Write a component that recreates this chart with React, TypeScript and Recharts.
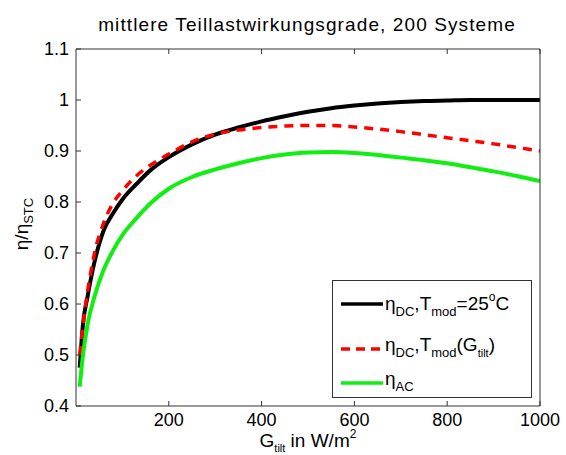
import { LineChart, Line, XAxis, YAxis, Legend, Label } from 'recharts'

// irradiance G_tilt in W/m²
const gTilt = [8, 15, 25, 40, 60, 80, 100, 130, 160, 200, 250, 300, 350, 400, 450, 500, 550, 600, 650, 700, 750, 800, 850, 900, 950, 1000]
// eta_DC at T_mod = 25 °C
const etaDc25 = [0.475, 0.56, 0.615, 0.683, 0.745, 0.778, 0.805, 0.835, 0.862, 0.888, 0.913, 0.932, 0.946, 0.958, 0.968, 0.977, 0.984, 0.989, 0.993, 0.996, 0.998, 0.999, 1.0, 1.0, 1.0, 1.0]
// eta_DC at T_mod(G_tilt)
const etaDcT = [0.5, 0.558, 0.625, 0.7, 0.76, 0.798, 0.822, 0.851, 0.872, 0.894, 0.918, 0.933, 0.941, 0.946, 0.949, 0.95, 0.95, 0.947, 0.943, 0.938, 0.932, 0.926, 0.92, 0.914, 0.907, 0.9]
// eta_AC
const etaAc = [0.438, 0.5, 0.56, 0.615, 0.668, 0.705, 0.735, 0.768, 0.797, 0.826, 0.849, 0.864, 0.876, 0.886, 0.893, 0.897, 0.898, 0.896, 0.892, 0.887, 0.882, 0.876, 0.868, 0.86, 0.851, 0.841]

const xTicks = [200, 400, 600, 800, 1000]
const yTicks = [0.4, 0.5, 0.6, 0.7, 0.8, 0.9, 1, 1.1]

const data = gTilt.map((g, i) => ({ g, dc25: etaDc25[i], dcT: etaDcT[i], ac: etaAc[i] }))

const FONT = "'Liberation Sans', Arial, sans-serif"
const AX = '#333'
const tickStyle = { fill: '#000', fontSize: 18, fontFamily: FONT }
const none = () => ''

const sub = { fontSize: 13, verticalAlign: '-6px' } as React.CSSProperties
const sup = { fontSize: 12, verticalAlign: '9px' } as React.CSSProperties

function LegendBox() {
  const row = (top: number, color: string, dash: boolean, label: React.ReactNode) => (
    <div style={{ position: 'absolute', left: 0, top, height: 24, display: 'flex', alignItems: 'center' }}>
      <svg width={52} height={10}>
        <line x1={8} y1={5} x2={50} y2={5} stroke={color} strokeWidth={3.5} strokeDasharray={dash ? '9 6' : undefined} />
      </svg>
      <span style={{ fontSize: 19, fontFamily: FONT, whiteSpace: 'nowrap', lineHeight: '24px' }}>{label}</span>
    </div>
  )
  return (
    <div style={{ position: 'relative', width: 200, height: 118, border: `1px solid ${AX}`, background: '#fff', boxSizing: 'border-box' }}>
      {row(11, '#000', false, <>η<span style={sub}>DC</span>,T<span style={sub}>mod</span>=25<span style={sup}>o</span>C</>)}
      {row(56, '#f00', true, <>η<span style={sub}>DC</span>,T<span style={sub}>mod</span>(G<span style={{ fontSize: 11, verticalAlign: '-6px' }}>tilt</span>)</>)}
      {row(90, '#11ee11', false, <>η<span style={sub}>AC</span></>)}
    </div>
  )
}

export default function App() {
  return (
    <div style={{ width: 566, height: 455, position: 'relative', background: '#fff' }}>
      <style>{'body{margin:0}'}</style>
      <LineChart width={566} height={455} data={data} margin={{ top: 48, right: 25, bottom: 48, left: 75 }}>
        <text x={307} y={31} textAnchor="middle" fontSize={19} letterSpacing={1.1} fontFamily={FONT} fill="#000">
          mittlere Teillastwirkungsgrade, 200 Systeme
        </text>
        <XAxis xAxisId="b" dataKey="g" type="number" domain={[0, 1000]} ticks={xTicks} height={1}
          tickSize={-5} tickMargin={12} tick={tickStyle} stroke={AX} tickLine={{ stroke: AX }} allowDataOverflow>
          <Label content={() => (
            <text x={308} y={447} textAnchor="middle" fontSize={19} fontFamily={FONT} fill="#000">
              G<tspan fontSize={11} dy={5}>tilt</tspan><tspan dy={-5}> in W/m</tspan><tspan fontSize={12} dy={-9}>2</tspan>
            </text>
          )} />
        </XAxis>
        <XAxis xAxisId="t" orientation="top" dataKey="g" type="number" domain={[0, 1000]} ticks={xTicks} height={1}
          tickSize={-5} tickFormatter={none} stroke={AX} tickLine={{ stroke: AX }} />
        <YAxis yAxisId="l" domain={[0.4, 1.1]} ticks={yTicks} width={1} tickSize={-5} tickMargin={12}
          tick={tickStyle} stroke={AX} tickLine={{ stroke: AX }} allowDataOverflow>
          <Label content={() => (
            <text x={28} y={224} transform="rotate(-90 28 224)" textAnchor="middle" fontSize={19} fontFamily={FONT} fill="#000">
              η/η<tspan fontSize={13} dy={5}>STC</tspan>
            </text>
          )} />
        </YAxis>
        <YAxis yAxisId="r" orientation="right" domain={[0.4, 1.1]} ticks={yTicks} width={1} tickSize={-5}
          tickFormatter={none} stroke={AX} tickLine={{ stroke: AX }} />
        <Line xAxisId="b" yAxisId="l" type="monotone" dataKey="dc25" stroke="#000" strokeWidth={4} dot={false} isAnimationActive={false} />
        <Line xAxisId="b" yAxisId="l" type="monotone" dataKey="dcT" stroke="#f00" strokeWidth={3.5} strokeDasharray="9 7" dot={false} isAnimationActive={false} />
        <Line xAxisId="b" yAxisId="l" type="monotone" dataKey="ac" stroke="#11ee11" strokeWidth={4} dot={false} isAnimationActive={false} />
        <Legend layout="horizontal" verticalAlign="middle" align="center" content={() => <LegendBox />}
          wrapperStyle={{ position: 'absolute', left: 332, top: 280, width: 201, height: 119 }} />
      </LineChart>
    </div>
  )
}
